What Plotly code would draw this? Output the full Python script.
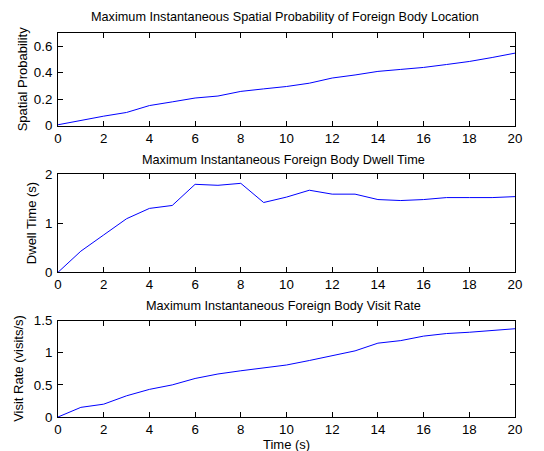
import plotly.graph_objects as go

time_s = list(range(21))
spatial_prob = [0.007, 0.04, 0.072, 0.10, 0.152, 0.18, 0.209, 0.224, 0.259, 0.278, 0.296, 0.321, 0.36, 0.383, 0.41, 0.425, 0.44, 0.462, 0.485, 0.515, 0.548]
dwell_time = [0.0, 0.43, 0.76, 1.09, 1.30, 1.36, 1.79, 1.77, 1.81, 1.42, 1.53, 1.67, 1.59, 1.59, 1.48, 1.46, 1.48, 1.52, 1.52, 1.52, 1.54]
visit_rate = [0.0, 0.15, 0.20, 0.33, 0.43, 0.50, 0.60, 0.67, 0.72, 0.77, 0.81, 0.88, 0.95, 1.03, 1.15, 1.19, 1.26, 1.30, 1.32, 1.35, 1.375]

titles = ["Maximum Instantaneous Spatial Probability of Foreign Body Location",
          "Maximum Instantaneous Foreign Body Dwell Time",
          "Maximum Instantaneous Foreign Body Visit Rate"]
ylabels = ["Spatial Probability", "Dwell Time (s)", "Visit Rate (visits/s)"]
xlabel = "Time (s)"
yranges = [[0, 0.7], [0, 2], [0, 1.5]]
ytickvals = [[0, 0.2, 0.4, 0.6], [0, 1, 2], [0, 0.5, 1, 1.5]]
yticktext = [["0", "0.2", "0.4", "0.6"], ["0", "1", "2"], ["0", "0.5", "1", "1.5"]]
xtickvals = list(range(0, 21, 2))

W, H = 544, 451
x0, x1 = 58, 515
panels_px = [(33, 125.7), (174, 272.3), (320.7, 417)]
title_y_px = [17.3, 160, 305.7]
title_x_px = [284.5, 283.5, 283.5]
ylabel_x_px = [22, 31, 19]

fig = go.Figure()
series = [spatial_prob, dwell_time, visit_rate]
font = "Liberation Sans, Arial, sans-serif"
TF = 13.3
layout = dict(template="none", width=W, height=H, margin=dict(l=0, r=0, t=0, b=0, pad=0),
              paper_bgcolor="white", plot_bgcolor="white", showlegend=False,
              font=dict(family=font, color="black"))
annotations = []
for i, (ys, (top, bot)) in enumerate(zip(series, panels_px)):
    xa = "x" if i == 0 else f"x{i+1}"
    ya = "y" if i == 0 else f"y{i+1}"
    fig.add_trace(go.Scatter(x=time_s, y=ys, mode="lines", line=dict(color="#0000ff", width=1),
                             xaxis=xa, yaxis=ya))
    axkey = "" if i == 0 else str(i + 1)
    layout["xaxis" + axkey] = dict(domain=[x0 / W, x1 / W], range=[0, 20], anchor=ya, automargin=False,
                                   tickvals=xtickvals, ticks="inside", ticklen=5, tickcolor="black",
                                   showline=True, linecolor="black", linewidth=1, mirror="allticks",
                                   showgrid=False, zeroline=False, tickfont=dict(size=TF, family=font),
                                   ticklabelstandoff=0)
    layout["yaxis" + axkey] = dict(domain=[1 - bot / H, 1 - top / H], range=yranges[i], anchor=xa,
                                   automargin=False,
                                   tickvals=ytickvals[i], ticktext=yticktext[i], ticks="inside", ticklen=5,
                                   tickcolor="black", showline=True, linecolor="black", linewidth=1,
                                   mirror="allticks", showgrid=False, zeroline=False,
                                   tickfont=dict(size=TF, family=font), ticklabelstandoff=2)
    annotations.append(dict(text=titles[i], x=title_x_px[i] / W, y=1 - title_y_px[i] / H, xref="paper",
                            yref="paper", xanchor="center", yanchor="middle", showarrow=False,
                            font=dict(size=12.7, family=font)))
    annotations.append(dict(text=ylabels[i], x=ylabel_x_px[i] / W, y=1 - (top + bot) / 2 / H,
                            xref="paper", yref="paper", xanchor="center", yanchor="middle",
                            textangle=-90, showarrow=False, font=dict(size=13, family=font)))
annotations.append(dict(text=xlabel, x=(x0 + x1) / 2 / W, y=1 - 444.5 / H, xref="paper", yref="paper",
                        xanchor="center", yanchor="middle", showarrow=False,
                        font=dict(size=13, family=font)))
layout["annotations"] = annotations
fig.update_layout(**layout)
fig.write_html("out.html", config={"displayModeBar": False},
               post_script="document.body.style.margin='0';document.body.style.overflow='hidden';")
